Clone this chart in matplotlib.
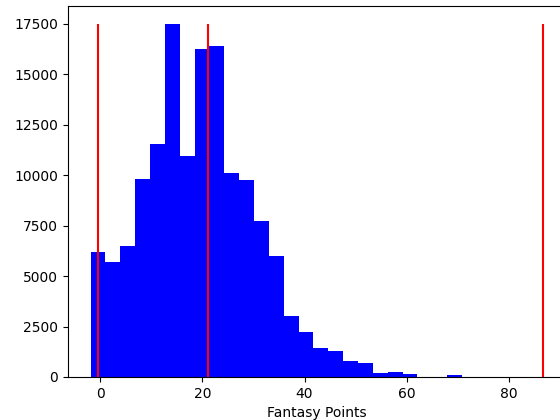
import numpy as np
import matplotlib
matplotlib.use("Agg")
import matplotlib.pyplot as plt

# histogram: 30 bins from about -1.9 to 85.4
bin_start = -1.9
bin_width = 2.91
counts = [6180, 5680, 6480, 9820, 11550, 17500, 10960, 16270, 16380, 10120,
          9770, 7710, 6000, 3030, 2240, 1420, 1290, 790, 710, 210,
          260, 150, 15, 20, 90, 0, 0, 0, 0, 0]
# red reference lines
line_x = [-0.4, 21.0, 86.7]
line_top = 17500

edges = bin_start + bin_width * np.arange(len(counts) + 1)
centers = (edges[:-1] + edges[1:]) / 2

fig = plt.figure(figsize=(5.6, 4.2), dpi=100)
ax = fig.add_axes([0.1214, 0.1024, 0.8886, 0.8833])
ax.hist(centers, bins=edges, weights=counts, color='blue')
ax.vlines(line_x, 0, line_top, colors='red', linewidth=1.5)
ax.set_xlabel('Fantasy Points')

fig.savefig('out.png', dpi=100)
